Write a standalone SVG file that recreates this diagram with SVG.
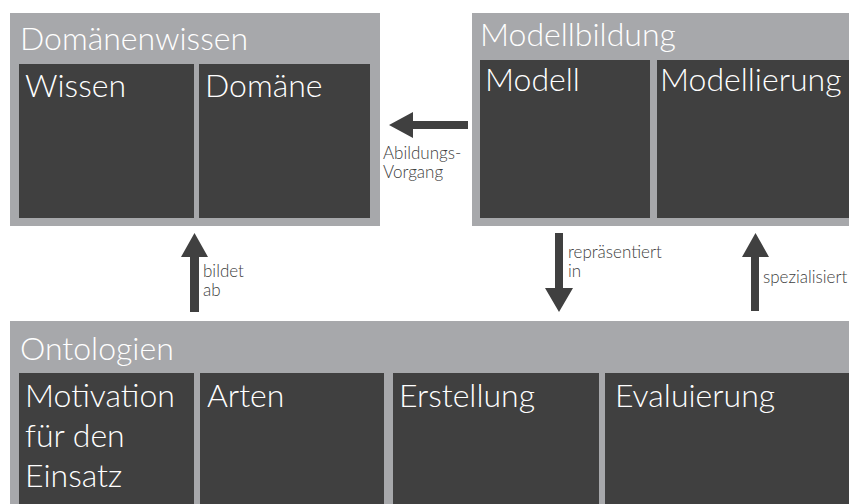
<svg xmlns="http://www.w3.org/2000/svg" width="849" height="504" viewBox="0 0 849 504">
  <style>
    .frame { fill: #a7a8ab; }
    .cell { fill: #404040; }
    .title { font-family: Lato, "Open Sans", sans-serif; font-weight: 300; font-size: 32px; fill: #ffffff; }
    .label { font-family: Lato, "Open Sans", sans-serif; font-weight: 300; font-size: 17px; fill: #404040; }
    .arrow { fill: #404040; }
  </style>

  <!-- Domänenwissen -->
  <g id="domaenenwissen">
    <rect class="frame" x="10" y="13" width="370" height="213"/>
    <text class="title" x="20" y="50">Domänenwissen</text>
    <rect class="cell" x="19" y="64" width="175" height="154"/>
    <text class="title" x="25" y="97">Wissen</text>
    <rect class="cell" x="199" y="64" width="171" height="154"/>
    <text class="title" x="205" y="97">Domäne</text>
  </g>

  <!-- Modellbildung -->
  <g id="modellbildung">
    <rect class="frame" x="472" y="13" width="377" height="213"/>
    <text class="title" x="480" y="46">Modellbildung</text>
    <rect class="cell" x="480" y="60" width="170" height="158"/>
    <text class="title" x="485" y="91">Modell</text>
    <rect class="cell" x="657" y="60" width="192" height="158"/>
    <text class="title" x="660" y="91">Modellierung</text>
  </g>

  <!-- Ontologien -->
  <g id="ontologien">
    <rect class="frame" x="10" y="321" width="839" height="183"/>
    <text class="title" x="20" y="360">Ontologien</text>
    <rect class="cell" x="19" y="373" width="175" height="131"/>
    <text class="title" x="25" y="407">Motivation</text>
    <text class="title" x="25" y="447">für den</text>
    <text class="title" x="25" y="487">Einsatz</text>
    <rect class="cell" x="200" y="373" width="184" height="131"/>
    <text class="title" x="207" y="407">Arten</text>
    <rect class="cell" x="393" y="373" width="206" height="131"/>
    <text class="title" x="399" y="407">Erstellung</text>
    <rect class="cell" x="605" y="373" width="244" height="131"/>
    <text class="title" x="615" y="407">Evaluierung</text>
  </g>

  <!-- Connectors: block arrows with their labels -->
  <g id="connectors">
    <!-- Modellbildung to Domänenwissen -->
    <polygon class="arrow" points="468,121 413,121 413,112 389,125 413,138 413,129 468,129"/>
    <text class="label" x="383" y="159">Abildungs-</text>
    <text class="label" x="383" y="178">Vorgang</text>

    <!-- Ontologien to Domänenwissen -->
    <polygon class="arrow" points="190,312 190,257 181,257 194.5,233 208,257 199,257 199,312"/>
    <text class="label" x="203" y="277">bildet</text>
    <text class="label" x="203" y="296">ab</text>

    <!-- Modellbildung to Ontologien -->
    <polygon class="arrow" points="555,233 563,233 563,288 573,288 559,312 545,288 555,288"/>
    <text class="label" x="568" y="258">repräsentiert</text>
    <text class="label" x="568" y="277">in</text>

    <!-- Ontologien to Modellbildung -->
    <polygon class="arrow" points="751,311 751,257 742,257 755.5,233 769,257 759,257 759,311"/>
    <text class="label" x="763" y="283">spezialisiert</text>
  </g>
</svg>
